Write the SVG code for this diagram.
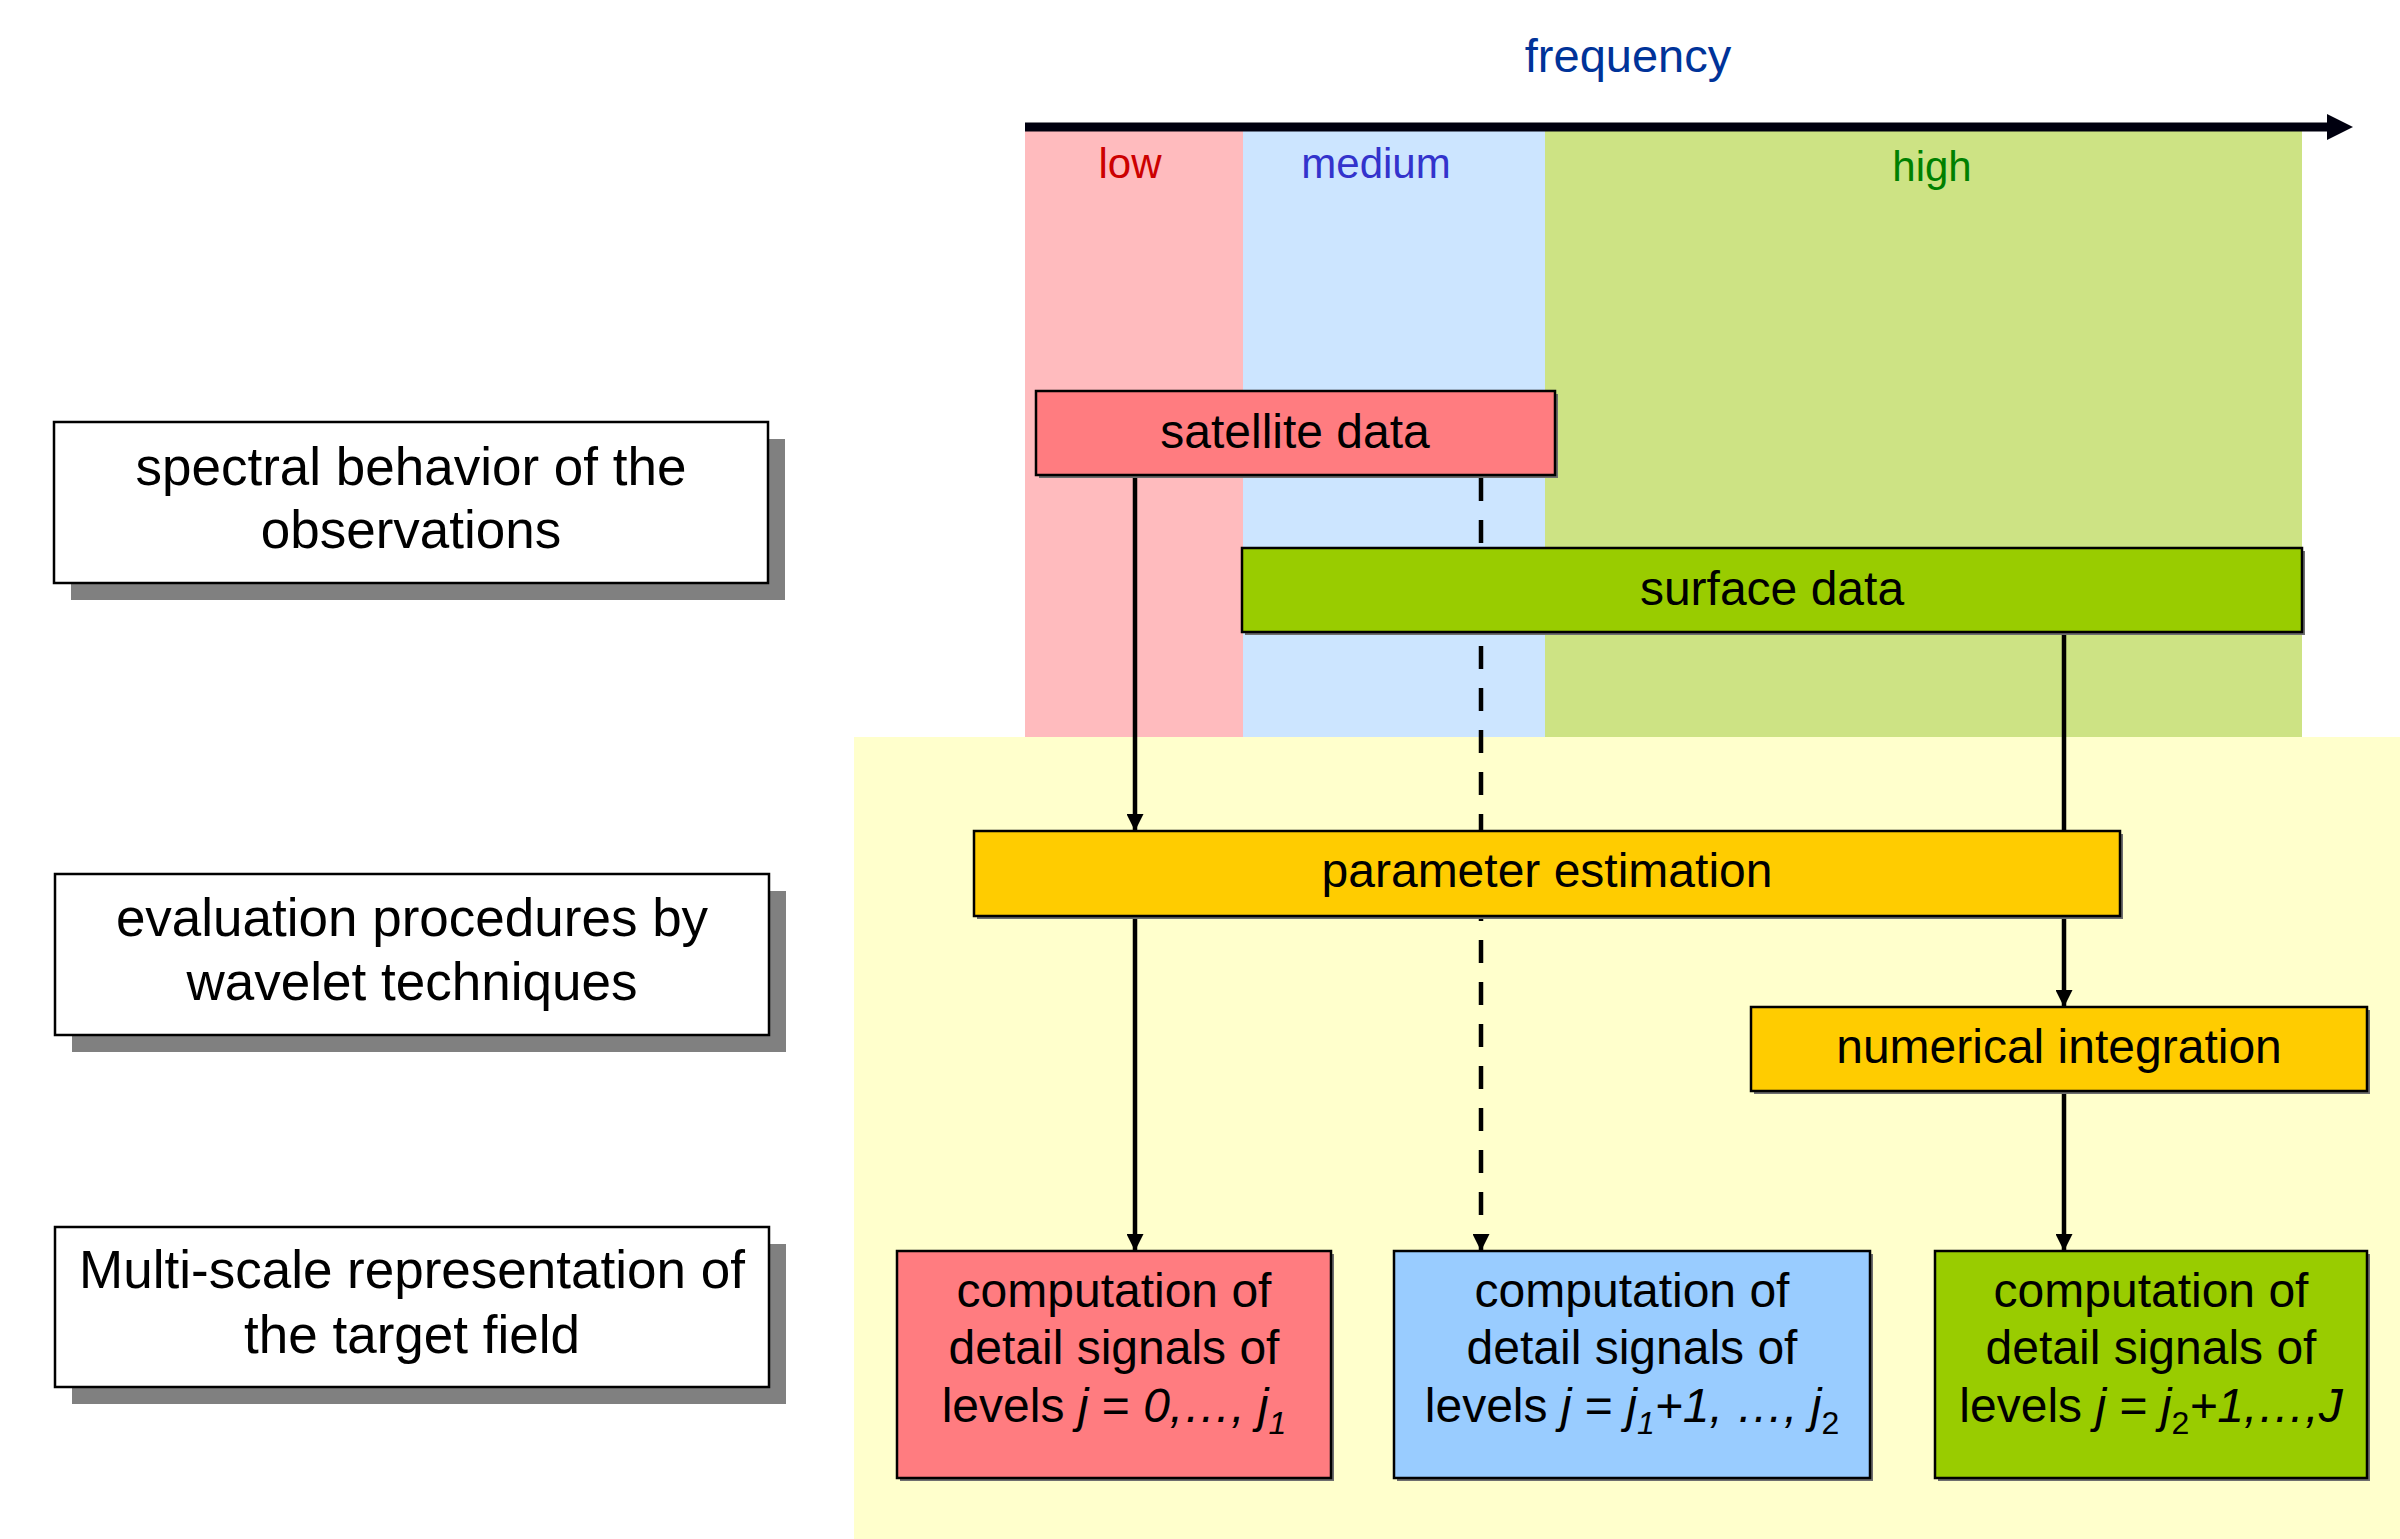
<svg xmlns="http://www.w3.org/2000/svg" width="2400" height="1539" viewBox="0 0 2400 1539">
<style>
text{font-family:"Liberation Sans",Arial,sans-serif;fill:#000}
.lbl{font-size:53px;text-anchor:middle}
.nt{font-size:48px;text-anchor:middle}
.band{font-size:42px;text-anchor:middle}
.box{stroke:#000;stroke-width:2.5}
.sh{fill:#808080}
.sh2{fill:#6e6e6e}
.conn{stroke:#000;stroke-width:4.5;fill:none}
.dash{stroke-dasharray:23 19;stroke-width:4.5}
.it{font-style:italic}
</style>
<defs>
<marker id="ah" viewBox="0 0 17 17" refX="17" refY="8.5" markerWidth="17" markerHeight="17" markerUnits="userSpaceOnUse" orient="auto">
<path d="M0,0 L17,8.5 L0,17 z" fill="#000"/>
</marker>
</defs>
<rect width="2400" height="1539" fill="#fff"/>
<g id="bands">
<rect x="1025" y="131" width="218" height="606" fill="#FFBBBE"/>
<rect x="1243" y="131" width="302" height="606" fill="#CCE5FF"/>
<rect x="1545" y="131" width="757" height="606" fill="#CDE384"/>
<rect x="854" y="737" width="1546" height="802" fill="#FFFFCC"/>
</g>
<g id="axis">
<line x1="1025" y1="127" x2="2330" y2="127" stroke="#00000f" stroke-width="9"/>
<polygon points="2327,114 2353,127 2327,140" fill="#00000f"/>
<text x="1628" y="72" font-size="47" text-anchor="middle" style="fill:#003399">frequency</text>
<text class="band" x="1130" y="178" style="fill:#CC0000">low</text>
<text class="band" x="1376" y="178" style="fill:#3333CC">medium</text>
<text class="band" x="1932" y="181" style="fill:#008000">high</text>
</g>
<g id="connectors">
<line class="conn" x1="1135" y1="476" x2="1135" y2="831" marker-end="url(#ah)"/>
<line class="conn dash" x1="1481" y1="478" x2="1481" y2="1251" marker-end="url(#ah)"/>
<line class="conn" x1="1135" y1="917" x2="1135" y2="1251" marker-end="url(#ah)"/>
<line class="conn" x1="2064" y1="633" x2="2064" y2="1007" marker-end="url(#ah)"/>
<line class="conn" x1="2064" y1="1092" x2="2064" y2="1251" marker-end="url(#ah)"/>
</g>
<g id="spectral-behavior">
<rect class="sh" x="71" y="439" width="714" height="161"/>
<rect class="box" x="54" y="422" width="714" height="161" fill="#fff"/>
<text class="lbl" x="411" y="485">spectral behavior of the</text>
<text class="lbl" x="411" y="548">observations</text>
</g>
<g id="evaluation-procedures">
<rect class="sh" x="72" y="891" width="714" height="161"/>
<rect class="box" x="55" y="874" width="714" height="161" fill="#fff"/>
<text class="lbl" x="412" y="936">evaluation procedures by</text>
<text class="lbl" x="412" y="1000">wavelet techniques</text>
</g>
<g id="multi-scale">
<rect class="sh" x="72" y="1244" width="714" height="160"/>
<rect class="box" x="55" y="1227" width="714" height="160" fill="#fff"/>
<text class="lbl" x="412" y="1288">Multi-scale representation of</text>
<text class="lbl" x="412" y="1353">the target field</text>
</g>
<g id="satellite-data">
<rect class="sh2" x="1039" y="394" width="519" height="84"/>
<rect class="box" x="1036" y="391" width="519" height="84" fill="#FF7C80"/>
<text class="nt" x="1295" y="448">satellite data</text>
</g>
<g id="surface-data">
<rect class="sh2" x="1245" y="551" width="1060" height="84"/>
<rect class="box" x="1242" y="548" width="1060" height="84" fill="#99CC00"/>
<text class="nt" x="1772" y="605">surface data</text>
</g>
<g id="parameter-estimation">
<rect class="sh2" x="977" y="834" width="1146" height="85"/>
<rect class="box" x="974" y="831" width="1146" height="85" fill="#FFCC00"/>
<text class="nt" x="1547" y="887">parameter estimation</text>
</g>
<g id="numerical-integration">
<rect class="sh2" x="1754" y="1010" width="616" height="84"/>
<rect class="box" x="1751" y="1007" width="616" height="84" fill="#FFCC00"/>
<text class="nt" x="2059" y="1063">numerical integration</text>
</g>
<g id="levels-low">
<rect class="sh2" x="900" y="1254" width="434" height="227"/>
<rect class="box" x="897" y="1251" width="434" height="227" fill="#FF7C80"/>
<text class="nt" x="1114" y="1307">computation of</text>
<text class="nt" x="1114" y="1364">detail signals of</text>
<text class="nt" x="1114" y="1422">levels <tspan class="it">j</tspan> = <tspan class="it">0,…, j</tspan><tspan class="it" font-size="32" dy="12">1</tspan></text>
</g>
<g id="levels-medium">
<rect class="sh2" x="1397" y="1254" width="476" height="227"/>
<rect class="box" x="1394" y="1251" width="476" height="227" fill="#99CCFF"/>
<text class="nt" x="1632" y="1307">computation of</text>
<text class="nt" x="1632" y="1364">detail signals of</text>
<text class="nt" x="1632" y="1422">levels <tspan class="it">j</tspan> = <tspan class="it">j</tspan><tspan class="it" font-size="32" dy="12">1</tspan><tspan class="it" dy="-12">+1, …, j</tspan><tspan font-size="32" dy="12">2</tspan></text>
</g>
<g id="levels-high">
<rect class="sh2" x="1938" y="1254" width="432" height="227"/>
<rect class="box" x="1935" y="1251" width="432" height="227" fill="#99CC00"/>
<text class="nt" x="2151" y="1307">computation of</text>
<text class="nt" x="2151" y="1364">detail signals of</text>
<text class="nt" x="2151" y="1422">levels <tspan class="it">j</tspan> = <tspan class="it">j</tspan><tspan font-size="32" dy="12">2</tspan><tspan class="it" dy="-12">+1,…,J</tspan></text>
</g>
</svg>
